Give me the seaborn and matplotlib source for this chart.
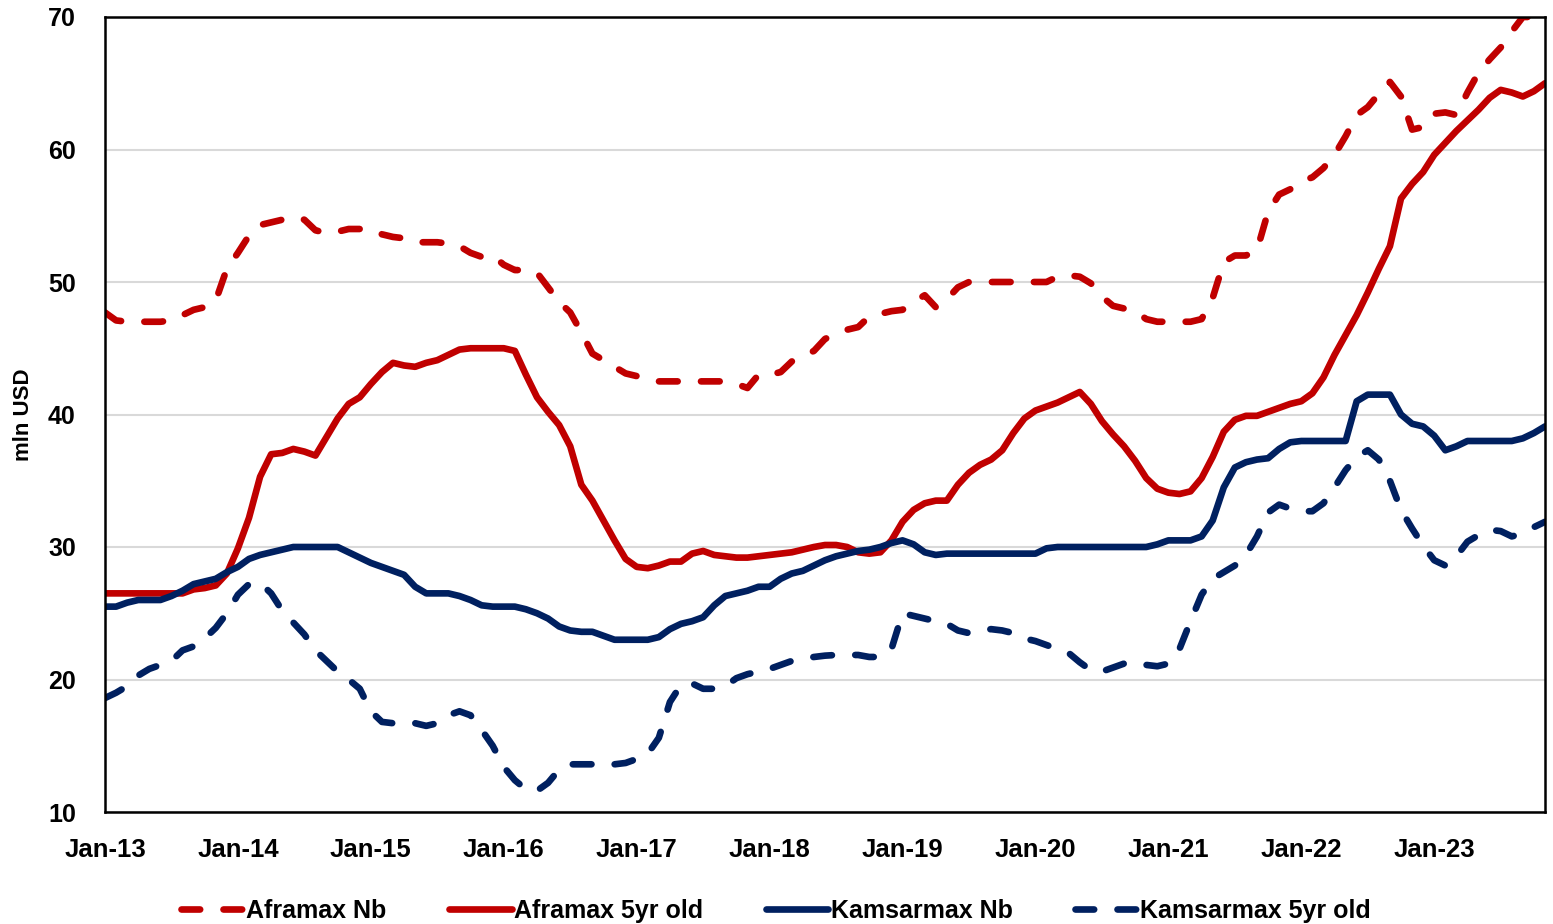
import matplotlib
matplotlib.use("Agg")
import matplotlib.pyplot as plt
import seaborn as sns
import pandas as pd
import numpy as np

years = ["13", "14", "15", "16", "17", "18", "19", "20", "21", "22", "23"]
tick_labels = ["Jan-" + y for y in years]

aframax_nb = [
    47.7, 47.1, 47.0, 47.0, 47.0, 47.0, 47.1, 47.5, 47.9, 48.1, 48.6, 51.0,
    52.2, 53.5, 54.3, 54.5, 54.7, 54.9, 54.7, 53.9, 53.7, 53.8, 54.0, 54.0,
    54.0, 53.6, 53.4, 53.3, 53.0, 53.0, 53.0, 52.9, 52.7, 52.2, 51.9, 52.0,
    51.3, 50.9, 50.9, 50.7, 49.6, 48.5, 47.7, 46.2, 44.6, 44.1, 43.6, 43.1,
    42.9, 42.8, 42.5, 42.5, 42.5, 42.5, 42.5, 42.5, 42.5, 42.3, 42.0, 43.0,
    43.0, 43.2, 44.0, 44.4, 44.8, 45.7, 46.1, 46.4, 46.6, 47.4, 47.6, 47.8,
    47.9, 48.5, 49.0, 48.1, 48.7, 49.6, 50.0, 50.0, 50.0, 50.0, 50.0, 50.0,
    50.0, 50.0, 50.4, 50.5, 50.4, 49.9, 48.9, 48.2, 48.0, 47.8, 47.2, 47.0,
    47.0, 47.0, 47.0, 47.2, 48.8, 51.5, 52.0, 52.0, 52.4, 55.3, 56.6, 57.0,
    57.6, 57.9, 58.6, 59.6, 61.0, 62.6, 63.2, 64.2, 65.1, 64.0, 61.5, 61.7,
    62.7, 62.8, 62.6, 64.3, 65.8, 66.8, 67.7, 68.9, 70.0, 70.0, 70.0,
]

aframax_5yr = [
    26.5, 26.5, 26.5, 26.5, 26.5, 26.5, 26.5, 26.5, 26.8, 26.9, 27.1, 28.0,
    29.9, 32.2, 35.3, 37.0, 37.1, 37.4, 37.2, 36.9, 38.3, 39.7, 40.8, 41.3,
    42.3, 43.2, 43.9, 43.7, 43.6, 43.9, 44.1, 44.5, 44.9, 45.0, 45.0, 45.0,
    45.0, 44.8, 43.0, 41.3, 40.2, 39.2, 37.6, 34.7, 33.5, 32.0, 30.5, 29.1,
    28.5, 28.4, 28.6, 28.9, 28.9, 29.5, 29.7, 29.4, 29.3, 29.2, 29.2, 29.3,
    29.4, 29.5, 29.6, 29.8, 30.0, 30.15, 30.15, 30.0, 29.6, 29.5, 29.6, 30.5,
    31.9, 32.8, 33.3, 33.5, 33.5, 34.7, 35.6, 36.2, 36.6, 37.3, 38.6, 39.7,
    40.3, 40.6, 40.9, 41.3, 41.7, 40.8, 39.5, 38.5, 37.6, 36.5, 35.2, 34.4,
    34.1, 34.0, 34.2, 35.2, 36.8, 38.7, 39.6, 39.9, 39.9, 40.2, 40.5, 40.8,
    41.0, 41.6, 42.8, 44.5, 46.0, 47.5, 49.2, 51.0, 52.7, 56.3, 57.4, 58.3,
    59.6, 60.5, 61.4, 62.2, 63.0, 63.9, 64.5, 64.3, 64.0, 64.4, 65.0,
]

kamsarmax_nb = [
    25.5, 25.5, 25.8, 26.0, 26.0, 26.0, 26.3, 26.7, 27.2, 27.4, 27.6, 28.1,
    28.5, 29.1, 29.4, 29.6, 29.8, 30.0, 30.0, 30.0, 30.0, 30.0, 29.6, 29.2,
    28.8, 28.5, 28.2, 27.9, 27.0, 26.5, 26.5, 26.5, 26.3, 26.0, 25.6, 25.5,
    25.5, 25.5, 25.3, 25.0, 24.6, 24.0, 23.7, 23.6, 23.6, 23.3, 23.0, 23.0,
    23.0, 23.0, 23.2, 23.8, 24.2, 24.4, 24.7, 25.6, 26.3, 26.5, 26.7, 27.0,
    27.0, 27.6, 28.0, 28.2, 28.6, 29.0, 29.3, 29.5, 29.7, 29.8, 30.0, 30.3,
    30.5, 30.2, 29.6, 29.4, 29.5, 29.5, 29.5, 29.5, 29.5, 29.5, 29.5, 29.5,
    29.5, 29.9, 30.0, 30.0, 30.0, 30.0, 30.0, 30.0, 30.0, 30.0, 30.0, 30.2,
    30.5, 30.5, 30.5, 30.8, 32.0, 34.5, 36.0, 36.4, 36.6, 36.7, 37.4, 37.9,
    38.0, 38.0, 38.0, 38.0, 38.0, 41.0, 41.5, 41.5, 41.5, 40.0, 39.3, 39.1,
    38.4, 37.3, 37.6, 38.0, 38.0, 38.0, 38.0, 38.0, 38.2, 38.6, 39.1,
]

kamsarmax_5yr = [
    18.6, 19.0, 19.5, 20.3, 20.8, 21.1, 21.4, 22.2, 22.5, 23.1, 23.9, 25.0,
    26.4, 27.2, 27.3, 26.5, 25.2, 24.3, 23.4, 22.2, 21.4, 20.6, 20.0, 19.3,
    17.6, 16.8, 16.7, 16.6, 16.7, 16.5, 16.7, 17.3, 17.6, 17.3, 16.2, 15.0,
    13.4, 12.4, 11.7, 11.6, 12.2, 13.2, 13.6, 13.6, 13.6, 13.5, 13.6, 13.7,
    14.0, 14.4, 15.6, 18.3, 19.6, 19.7, 19.3, 19.3, 19.5, 20.1, 20.4, 20.6,
    20.8, 21.1, 21.4, 21.6, 21.7, 21.8, 21.85, 21.85, 21.85, 21.7, 21.7, 22.3,
    25.0, 24.8, 24.6, 24.4, 24.2, 23.7, 23.5, 23.7, 23.8, 23.7, 23.5, 23.1,
    22.9, 22.6, 22.3, 22.0, 21.3, 20.7, 20.6, 20.9, 21.2, 21.3, 21.1, 21.0,
    21.2, 22.3, 24.4, 26.4, 27.6, 28.1, 28.6, 29.4, 30.8, 32.6, 33.2, 32.9,
    32.7, 32.7, 33.3, 34.5, 35.8, 36.8, 37.3, 36.6, 35.0, 32.8, 31.4, 30.1,
    29.0, 28.6, 29.3, 30.4, 30.9, 31.3, 31.2, 30.8, 31.0, 31.5, 31.9,
]

series_names = ["Aframax Nb", "Aframax 5yr old", "Kamsarmax Nb", "Kamsarmax 5yr old"]
series_values = [aframax_nb, aframax_5yr, kamsarmax_nb, kamsarmax_5yr]
series_colors = ["#C00000", "#C00000", "#002060", "#002060"]
series_dashed = [True, False, False, True]

sns.set_theme(style="white")
plt.rcParams["font.family"] = ["Liberation Sans", "DejaVu Sans"]
plt.rcParams["font.weight"] = "bold"
for key in ["text.color", "axes.labelcolor", "xtick.color", "ytick.color"]:
    plt.rcParams[key] = "black"

fig = plt.figure(figsize=(15.53, 9.24), dpi=100)
ax = fig.add_axes([105 / 1553, 1 - 812 / 924, 1440 / 1553, 795 / 924])

lw = 4.8
for name, vals, col, dashed in zip(series_names, series_values, series_colors, series_dashed):
    months = np.arange(len(vals))
    kws = dict(color=col, linewidth=lw, label=name, ax=ax,
               solid_capstyle="round", dash_capstyle="round", solid_joinstyle="round")
    if dashed:
        kws["linestyle"] = (0, (2.8, 3.5))
    sns.lineplot(x=months, y=vals, **kws)

ax.set_xlim(0, 130)
ax.set_ylim(10, 70)
ax.set_yticks(np.arange(10, 71, 10))
ax.set_yticklabels([str(v) for v in range(10, 71, 10)], fontsize=18, fontweight="bold")
ax.set_xticks(np.arange(0, 121, 12))
ax.set_xticklabels(tick_labels, fontsize=18.5, fontweight="bold")
ax.tick_params(axis="x", direction="out", length=8, width=1.5, color="black", pad=11)
ax.tick_params(axis="y", length=0, pad=21)

ax.grid(axis="y", color="#D9D9D9", linewidth=1.5)
ax.grid(axis="x", visible=False)
for sp in ax.spines.values():
    sp.set_visible(True)
    sp.set_color("black")
    sp.set_linewidth(1.8)

ax.set_xlabel("")
ax.set_ylabel("mln USD", fontsize=16, fontweight="bold", labelpad=10)

leg = ax.legend(loc="upper center", bbox_to_anchor=(0.466, -0.081), ncol=4, frameon=False,
                fontsize=18, handlelength=2.5, handletextpad=0.1, columnspacing=2.5)
for t in leg.get_texts():
    t.set_fontweight("bold")

fig.savefig("out.png", dpi=100)
